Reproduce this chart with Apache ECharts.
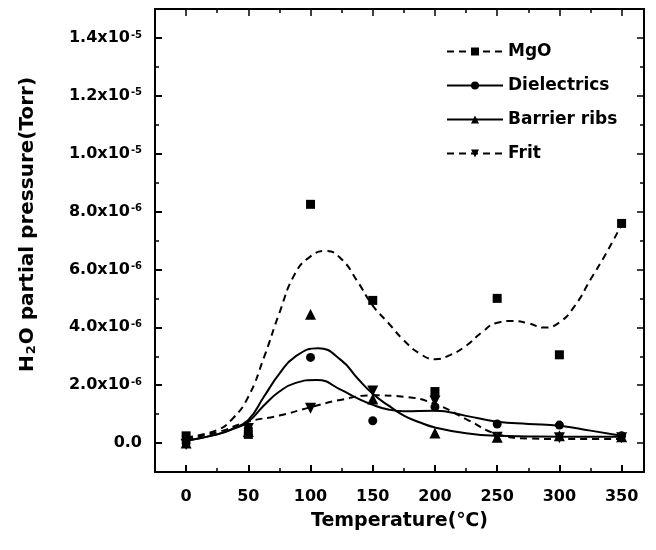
<!DOCTYPE html>
<html>
<head>
<meta charset="utf-8">
<script src="https://cdn.jsdelivr.net/npm/echarts@6/dist/echarts.min.js"></script>
<style>
  html, body { margin: 0; padding: 0; background: #fff; }
  #chart { width: 656px; height: 550px; }
</style>
</head>
<body>
<div id="chart"></div>
<script>
// Measurement temperatures (°C)
const temps = [0, 50, 100, 150, 200, 250, 300, 350];

// Measured H2O partial pressure, in units of 1e-6 Torr
const mgo         = [0.25, 0.30, 8.25, 4.93, 1.78, 5.00, 3.05, 7.59];
const dielectrics = [0.00, 0.50, 2.96, 0.77, 1.25, 0.66, 0.62, 0.25];
const barrierRibs = [0.00, 0.40, 4.45, 1.52, 0.35, 0.20, 0.25, 0.22];
const frit        = [-0.05, 0.50, 1.20, 1.80, 1.45, 0.20, 0.18, 0.18];

// Fitted trend curves: sample temperatures (°C) and pressures (1e-6 Torr)
const mgoFitT = [0, 25, 37.5, 50, 62.5, 75, 87.5, 100, 112.5, 125, 137.5, 150, 162.5, 175, 187.5, 200,
                 212.5, 225, 237.5, 250, 262.5, 275, 287.5, 300, 312.5, 325, 337.5, 350];
const mgoFitV = [0.20, 0.45, 0.85, 1.60, 2.95, 4.50, 5.85, 6.45, 6.64, 6.35, 5.60, 4.75, 4.15, 3.55, 3.10, 2.90,
                 3.05, 3.36, 3.82, 4.16, 4.22, 4.14, 3.99, 4.17, 4.75, 5.65, 6.55, 7.55];

const dielFitT = [0, 25, 37.5, 50, 62.5, 75, 87.5, 105, 125, 137.5, 150, 162.5, 175,
                  200, 225, 250, 275, 300, 325, 350];
const dielFitV = [0.08, 0.30, 0.48, 0.74, 1.30, 1.78, 2.07, 2.18, 1.83, 1.55, 1.32, 1.16, 1.10,
                  1.12, 0.94, 0.74, 0.66, 0.60, 0.43, 0.25];

const ribsFitT = [0, 25, 37.5, 50, 62.5, 75, 87.5, 106, 125, 137.5, 150, 162.5, 175, 187.5,
                  200, 225, 250, 275, 300, 350];
const ribsFitV = [0.08, 0.30, 0.50, 0.80, 1.60, 2.40, 2.98, 3.28, 2.85, 2.25, 1.70, 1.30, 0.95, 0.72,
                  0.54, 0.34, 0.25, 0.23, 0.22, 0.22];

const fritFitT = [0, 25, 50, 75, 100, 125, 150, 175, 200, 225, 250, 275, 300, 350];
const fritFitV = [0.15, 0.37, 0.74, 0.95, 1.24, 1.50, 1.65, 1.60, 1.35, 0.83, 0.31, 0.16, 0.14, 0.14];

// Tick positions
const xMajor = [0, 50, 100, 150, 200, 250, 300, 350];
const xMinor = [25, 75, 125, 175, 225, 275, 325];
const yMajor = [0, 2, 4, 6, 8, 10, 12, 14];
const yMinor = [1, 3, 5, 7, 9, 11, 13];

const FONT = 'DejaVu Sans';
const INK = '#000';
const X_MIN = -25, X_MAX = 368;
const Y_MIN = -1, Y_MAX = 15;

const downTriangle = 'path://M0,0 L10,0 L5,9 Z';

function pairs(xs, ys) { return xs.map((x, i) => [x, ys[i]]); }

function pressureLabel(v) {
  if (v === 0) return '{m|0.0}';
  if (v >= 10) return '{m|' + (v / 10).toFixed(1) + 'x10}{e|-5}';
  return '{m|' + v.toFixed(1) + 'x10}{e|-6}';
}

const frameLine = { show: true, onZero: false, lineStyle: { color: INK, width: 2 } };
const hiddenLine = { show: false, onZero: false };

// Extra axes that only carry tick marks (minor ticks and the mirrored frame)
function tickAxis(kind, position, ticks, len, withLine) {
  return {
    type: 'value',
    position: position,
    min: kind === 'x' ? X_MIN : Y_MIN,
    max: kind === 'x' ? X_MAX : Y_MAX,
    axisLine: withLine ? frameLine : hiddenLine,
    splitLine: { show: false },
    axisLabel: { show: false },
    axisTick: { show: true, inside: true, length: len, customValues: ticks,
                lineStyle: { color: INK, width: 1.5 } }
  };
}

const labelRich = {
  m: { fontFamily: FONT, fontWeight: 'bold', fontSize: 16, color: INK },
  e: { fontFamily: FONT, fontWeight: 'bold', fontSize: 10, color: INK, verticalAlign: 'top', padding: [0, 0, 6, 1] }
};

const chart = echarts.init(document.getElementById('chart'));

const fitLine = (name, xs, ys, dashed, symbol) => ({
  name: name,
  type: 'line',
  xAxisIndex: 0, yAxisIndex: 0,
  data: pairs(xs, ys),
  smooth: 0.5,
  symbol: symbol,
  symbolSize: 8,
  showSymbol: false,
  silent: true,
  itemStyle: { color: INK },
  lineStyle: { color: INK, width: 2, type: dashed ? [7, 5] : 'solid' },
  z: 2
});

const measured = (name, ys, symbol, size) => ({
  name: name,
  type: 'scatter',
  xAxisIndex: 0, yAxisIndex: 0,
  data: pairs(temps, ys),
  symbol: symbol,
  symbolSize: size,
  itemStyle: { color: INK, opacity: 1 },
  z: 3
});

chart.setOption({
  animation: false,
  backgroundColor: '#fff',
  grid: { left: 155, right: 12, top: 9, bottom: 78, containLabel: false },
  legend: {
    data: ['MgO', 'Dielectrics', 'Barrier ribs', 'Frit'],
    orient: 'vertical',
    left: 441,
    top: 38,
    itemWidth: 56,
    itemHeight: 10,
    itemGap: 17,
    selectedMode: false,
    textStyle: { fontFamily: FONT, fontWeight: 'bold', fontSize: 17, color: INK }
  },
  xAxis: [
    {
      type: 'value', position: 'bottom', min: X_MIN, max: X_MAX,
      axisLine: frameLine,
      splitLine: { show: false },
      axisTick: { show: true, inside: true, length: 7, customValues: xMajor,
                  lineStyle: { color: INK, width: 2 } },
      axisLabel: { customValues: xMajor, margin: 17, color: INK,
                   fontFamily: FONT, fontWeight: 'bold', fontSize: 16 },
      name: 'Temperature(℃)',
      nameLocation: 'middle',
      nameGap: 40,
      nameTextStyle: { fontFamily: FONT, fontWeight: 'bold', fontSize: 19, color: INK }
    },
    tickAxis('x', 'bottom', xMinor, 4, false),
    tickAxis('x', 'top', xMajor, 7, true),
    tickAxis('x', 'top', xMinor, 4, false)
  ],
  yAxis: [
    {
      type: 'value', position: 'left', min: Y_MIN, max: Y_MAX,
      axisLine: frameLine,
      splitLine: { show: false },
      axisTick: { show: true, inside: true, length: 7, customValues: yMajor,
                  lineStyle: { color: INK, width: 2 } },
      axisLabel: { customValues: yMajor, margin: 13, formatter: pressureLabel, rich: labelRich },
      name: '{t|H}{s|2}{t|O partial pressure(Torr)}',
      nameLocation: 'middle',
      nameGap: 117,
      nameRotate: 90,
      nameTextStyle: {
        padding: [0, 0, 0, 32],
        rich: {
          t: { fontFamily: FONT, fontWeight: 'bold', fontSize: 20, color: INK },
          s: { fontFamily: FONT, fontWeight: 'bold', fontSize: 13, color: INK, verticalAlign: 'bottom', padding: [6, 1, 0, 1] }
        }
      }
    },
    tickAxis('y', 'left', yMinor, 4, false),
    tickAxis('y', 'right', yMajor, 7, true),
    tickAxis('y', 'right', yMinor, 4, false)
  ],
  series: [
    fitLine('MgO', mgoFitT, mgoFitV, true, 'rect'),
    fitLine('Dielectrics', dielFitT, dielFitV, false, 'circle'),
    fitLine('Barrier ribs', ribsFitT, ribsFitV, false, 'triangle'),
    fitLine('Frit', fritFitT, fritFitV, true, downTriangle),
    measured('MgO', mgo, 'rect', 9),
    measured('Dielectrics', dielectrics, 'circle', 9),
    measured('Barrier ribs', barrierRibs, 'triangle', 11),
    measured('Frit', frit, downTriangle, 11)
  ]
});
</script>
</body>
</html>
